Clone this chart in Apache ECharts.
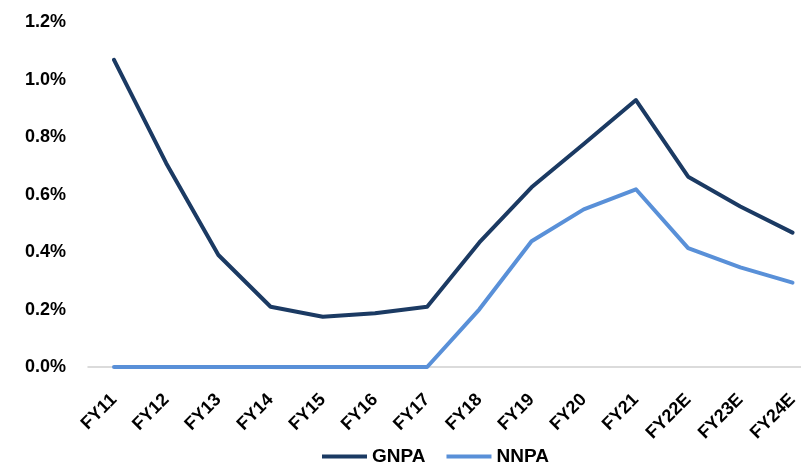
<!DOCTYPE html>
<html>
<head>
<meta charset="utf-8">
<script src="https://cdn.jsdelivr.net/npm/echarts@6/dist/echarts.min.js"></script>
<style>
  html, body { margin: 0; padding: 0; background: #fff; }
  #chart { width: 801px; height: 468px; }
</style>
</head>
<body>
<div id="chart"></div>
<script>
// Fiscal years, actual and estimated
const categories = ['FY11', 'FY12', 'FY13', 'FY14', 'FY15', 'FY16', 'FY17', 'FY18', 'FY19', 'FY20', 'FY21', 'FY22E', 'FY23E', 'FY24E'];
// Gross and net NPA ratios, in percent
const gnpa = [1.07, 0.71, 0.39, 0.21, 0.175, 0.187, 0.21, 0.434, 0.626, 0.777, 0.93, 0.663, 0.559, 0.468];
const nnpa = [0, 0, 0, 0, 0, 0, 0, 0.201, 0.438, 0.549, 0.619, 0.414, 0.347, 0.294];
// Y-axis range and step, in percent
const yMin = 0, yMax = 1.2, yStep = 0.2;

const FONT = 'Liberation Sans, Arial, sans-serif';
const chart = echarts.init(document.getElementById('chart'));
chart.setOption({
  animation: false,
  backgroundColor: '#ffffff',
  grid: [
    // plotting area for the two lines
    { left: 114, right: 5, top: 22.5, bottom: 101, containLabel: false },
    // wider frame that carries only the light zero baseline
    { left: 88, right: 0, top: 22.5, bottom: 101, containLabel: false }
  ],
  legend: {
    top: 447,
    left: 322,
    padding: 0,
    icon: 'rect',
    itemWidth: 45,
    itemHeight: 4,
    itemGap: 21,
    textStyle: { fontFamily: FONT, fontWeight: 'bold', fontSize: 19, color: '#000' },
    data: ['GNPA', 'NNPA']
  },
  xAxis: [
    {
      type: 'category',
      gridIndex: 0,
      data: categories,
      boundaryGap: false,
      axisLine: { show: false },
      axisTick: { show: false },
      axisLabel: {
        interval: 0,
        rotate: 45,
        margin: 30,
        fontFamily: FONT, fontWeight: 'bold', fontSize: 18, color: '#000'
      }
    },
    {
      type: 'value',
      gridIndex: 1,
      min: 0, max: 1,
      axisLine: { show: true, lineStyle: { color: '#d0d0d0', width: 1.5 } },
      axisTick: { show: false },
      axisLabel: { show: false },
      splitLine: { show: false }
    }
  ],
  yAxis: [
    {
      type: 'value',
      gridIndex: 0,
      min: yMin, max: yMax, interval: yStep,
      axisLine: { show: false },
      axisTick: { show: false },
      splitLine: { show: false },
      axisLabel: {
        margin: 48,
        fontFamily: FONT, fontWeight: 'bold', fontSize: 18, color: '#000',
        formatter: v => v.toFixed(1) + '%'
      }
    },
    {
      type: 'value',
      gridIndex: 1,
      min: yMin, max: yMax,
      show: false
    }
  ],
  series: [
    {
      name: 'GNPA', type: 'line', data: gnpa,
      xAxisIndex: 0, yAxisIndex: 0,
      symbol: 'none',
      lineStyle: { color: '#1b3a63', width: 4, cap: 'round', join: 'round' },
      itemStyle: { color: '#1b3a63' }
    },
    {
      name: 'NNPA', type: 'line', data: nnpa,
      xAxisIndex: 0, yAxisIndex: 0,
      symbol: 'none',
      lineStyle: { color: '#5990d8', width: 4, cap: 'round', join: 'round' },
      itemStyle: { color: '#5990d8' }
    }
  ]
});
</script>
</body>
</html>
